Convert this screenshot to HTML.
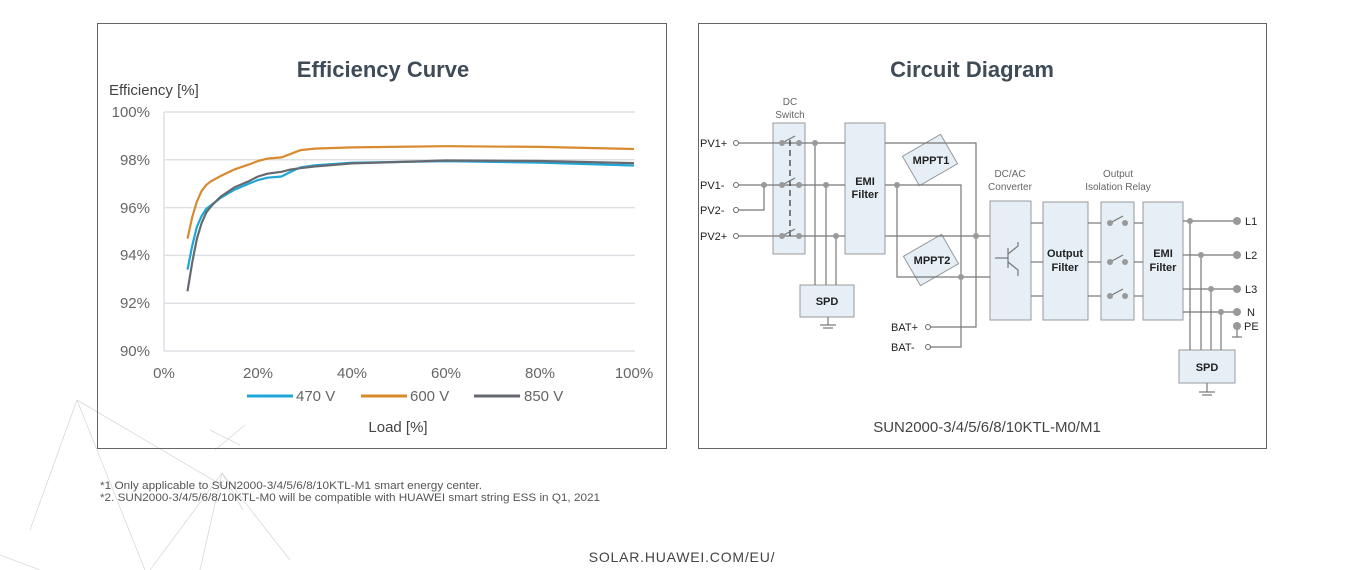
<!DOCTYPE html>
<html><head><meta charset="utf-8"><style>
html,body{margin:0;padding:0;background:#fff;width:1365px;height:570px;overflow:hidden}
svg{display:block;font-family:"Liberation Sans",sans-serif}
</style></head><body>
<svg width="1365" height="570" viewBox="0 0 1365 570" xmlns="http://www.w3.org/2000/svg">
<!-- background decorative lines -->
<g stroke="#d6d9de" stroke-width="0.8" fill="none">
<line x1="77" y1="400" x2="30" y2="530"/><line x1="77" y1="400" x2="145" y2="570"/>
<line x1="77" y1="400" x2="230" y2="490"/><line x1="0" y1="555" x2="40" y2="570"/>
<line x1="222" y1="473" x2="150" y2="570"/><line x1="222" y1="473" x2="200" y2="570"/>
<line x1="222" y1="473" x2="290" y2="560"/><line x1="222" y1="473" x2="243" y2="510"/>
<line x1="215" y1="450" x2="245" y2="425"/><line x1="210" y1="430" x2="240" y2="445"/>
</g>
<!-- left panel -->
<rect x="97.5" y="23.5" width="569" height="425" fill="none" stroke="#666" stroke-width="1"/>
<text x="383" y="77" text-anchor="middle" font-size="22" font-weight="bold" fill="#3f4b56">Efficiency Curve</text>
<text x="109" y="95" font-size="15" fill="#444">Efficiency [%]</text>
<g stroke="#dde1e6" stroke-width="1.5">
<line x1="164" y1="112" x2="635" y2="112"/><line x1="164" y1="159.8" x2="635" y2="159.8"/>
<line x1="164" y1="207.6" x2="635" y2="207.6"/><line x1="164" y1="255.4" x2="635" y2="255.4"/>
<line x1="164" y1="303.2" x2="635" y2="303.2"/><line x1="164" y1="351" x2="635" y2="351"/>
<line x1="164" y1="112" x2="164" y2="351"/>
</g>
<g font-size="15" fill="#666" text-anchor="end">
<text x="150" y="117">100%</text><text x="150" y="165">98%</text><text x="150" y="213">96%</text>
<text x="150" y="260">94%</text><text x="150" y="308">92%</text><text x="150" y="356">90%</text>
</g>
<g font-size="15" fill="#666" text-anchor="middle">
<text x="164" y="378">0%</text><text x="258" y="378">20%</text><text x="352" y="378">40%</text>
<text x="446" y="378">60%</text><text x="540" y="378">80%</text><text x="634" y="378">100%</text>
</g>
<path id="p600" fill="none" stroke="#d88a2e" stroke-width="2.2"/>
<path id="p470" fill="none" stroke="#1ea7d6" stroke-width="2.2"/>
<path id="p850" fill="none" stroke="#666a70" stroke-width="2.2"/>
<g stroke-width="3">
<line x1="247" y1="396" x2="293" y2="396" stroke="#1ea7d6"/>
<line x1="361" y1="396" x2="407" y2="396" stroke="#d88a2e"/>
<line x1="474" y1="396" x2="520" y2="396" stroke="#666a70"/>
</g>
<g font-size="15" fill="#666"><text x="296" y="401">470 V</text><text x="410" y="401">600 V</text><text x="524" y="401">850 V</text></g>
<text x="398" y="432" text-anchor="middle" font-size="15" fill="#444">Load [%]</text>

<!-- right panel -->
<rect x="698.5" y="23.5" width="568" height="425" fill="none" stroke="#666" stroke-width="1"/>
<text x="972" y="77" text-anchor="middle" font-size="22" font-weight="bold" fill="#3f4b56">Circuit Diagram</text>
<g font-size="10" fill="#666" text-anchor="middle">
<text x="790" y="105">DC</text><text x="790" y="118">Switch</text>
<text x="1010" y="177">DC/AC</text><text x="1010" y="190">Converter</text>
<text x="1118" y="177">Output</text><text x="1118" y="190">Isolation Relay</text>
</g>
<g fill="#e6eef6" stroke="#999" stroke-width="1">
<rect x="773" y="123" width="32" height="131"/>
<rect x="845" y="123" width="40" height="131"/>
<rect x="800" y="285" width="54" height="32"/>
<rect x="990" y="201" width="41" height="119"/>
<rect x="1043" y="202" width="45" height="118"/>
<rect x="1101" y="202" width="33" height="118"/>
<rect x="1143" y="202" width="40" height="118"/>
<rect x="1179" y="350" width="56" height="33"/>
<rect x="-22" y="-17" width="44" height="34" transform="translate(930,160) rotate(-30)"/>
<rect x="-22" y="-17" width="44" height="34" transform="translate(931,260) rotate(-30)"/>
</g>
<g stroke="#777" stroke-width="1.2" fill="none">
<!-- inputs -->
<line x1="739" y1="143" x2="845" y2="143"/>
<line x1="739" y1="185" x2="845" y2="185"/>
<line x1="739" y1="236" x2="845" y2="236"/>
<polyline points="739,210 764,210 764,185"/>
<line x1="790" y1="140" x2="790" y2="240" stroke-dasharray="6,4" stroke="#333"/>
<polyline points="815,143 815,285"/><polyline points="826,185 826,285"/><polyline points="836,236 836,285"/>
<line x1="828" y1="317" x2="828" y2="325"/><line x1="820" y1="325" x2="836" y2="325"/><line x1="823" y1="328" x2="833" y2="328"/>
<!-- after EMI -->
<polyline points="885,143 976,143 976,327 930,327"/>
<polyline points="885,185 961,185 961,347 930,347"/>
<polyline points="897,185 897,277 990,277"/>
<line x1="885" y1="236" x2="990" y2="236"/>
<!-- to output -->
<line x1="1031" y1="223" x2="1043" y2="223"/><line x1="1031" y1="262" x2="1043" y2="262"/><line x1="1031" y1="296" x2="1043" y2="296"/>
<line x1="1088" y1="223" x2="1101" y2="223"/><line x1="1088" y1="262" x2="1101" y2="262"/><line x1="1088" y1="296" x2="1101" y2="296"/>
<line x1="1134" y1="223" x2="1143" y2="223"/><line x1="1134" y1="262" x2="1143" y2="262"/><line x1="1134" y1="296" x2="1143" y2="296"/>
<line x1="1183" y1="221" x2="1237" y2="221"/><line x1="1183" y1="255" x2="1237" y2="255"/>
<line x1="1183" y1="289" x2="1237" y2="289"/><line x1="1183" y1="312" x2="1237" y2="312"/>
<line x1="1190" y1="221" x2="1190" y2="350"/><line x1="1201" y1="255" x2="1201" y2="350"/>
<line x1="1211" y1="289" x2="1211" y2="350"/><line x1="1221" y1="312" x2="1221" y2="350"/>
<line x1="1207" y1="383" x2="1207" y2="392"/><line x1="1199" y1="392" x2="1215" y2="392"/><line x1="1202" y1="395" x2="1212" y2="395"/>
<line x1="1237" y1="326" x2="1237" y2="337"/><line x1="1232" y1="337" x2="1242" y2="337"/>
<!-- switches -->
<line x1="782" y1="143" x2="795" y2="136"/><line x1="782" y1="185" x2="795" y2="178"/><line x1="782" y1="236" x2="795" y2="229"/>
<line x1="1110" y1="223" x2="1123" y2="216"/><line x1="1110" y1="262" x2="1123" y2="255"/><line x1="1110" y1="296" x2="1123" y2="289"/>
<!-- transistor -->
<line x1="995" y1="258" x2="1008" y2="258"/><line x1="1008" y1="248" x2="1008" y2="268"/>
<polyline points="1008,254 1018,246 1018,242"/><polyline points="1008,262 1018,270 1018,276"/>
</g>
<g fill="#fff" stroke="#666" stroke-width="1">
<circle cx="736" cy="143" r="2.5"/><circle cx="736" cy="185" r="2.5"/><circle cx="736" cy="210" r="2.5"/><circle cx="736" cy="236" r="2.5"/>
<circle cx="928" cy="327" r="2.5"/><circle cx="928" cy="347" r="2.5"/>
</g>
<g fill="#999">
<circle cx="782" cy="143" r="3"/><circle cx="799" cy="143" r="3"/><circle cx="782" cy="185" r="3"/><circle cx="799" cy="185" r="3"/>
<circle cx="782" cy="236" r="3"/><circle cx="799" cy="236" r="3"/><circle cx="764" cy="185" r="3"/>
<circle cx="815" cy="143" r="3"/><circle cx="826" cy="185" r="3"/><circle cx="836" cy="236" r="3"/>
<circle cx="897" cy="185" r="3"/><circle cx="976" cy="236" r="3"/><circle cx="961" cy="277" r="3"/>
<circle cx="1110" cy="223" r="3"/><circle cx="1125" cy="223" r="3"/><circle cx="1110" cy="262" r="3"/><circle cx="1125" cy="262" r="3"/>
<circle cx="1110" cy="296" r="3"/><circle cx="1125" cy="296" r="3"/>
<circle cx="1190" cy="221" r="3"/><circle cx="1201" cy="255" r="3"/><circle cx="1211" cy="289" r="3"/><circle cx="1221" cy="312" r="3"/>
<circle cx="1237" cy="221" r="4"/><circle cx="1237" cy="255" r="4"/><circle cx="1237" cy="289" r="4"/><circle cx="1237" cy="312" r="4"/><circle cx="1237" cy="326" r="4"/>
</g>
<g font-size="11" fill="#222">
<text x="700" y="147">PV1+</text><text x="700" y="189">PV1-</text><text x="700" y="214">PV2-</text><text x="700" y="240">PV2+</text>
<text x="891" y="331">BAT+</text><text x="891" y="351">BAT-</text>
<text x="1245" y="225">L1</text><text x="1245" y="259">L2</text><text x="1245" y="293">L3</text><text x="1247" y="316">N</text><text x="1244" y="330">PE</text>
</g>
<g font-size="11" font-weight="bold" fill="#222" text-anchor="middle">
<text x="865" y="185">EMI</text><text x="865" y="198">Filter</text>
<text x="827" y="305">SPD</text>
<text x="931" y="164" transform="rotate(0)">MPPT1</text><text x="932" y="264">MPPT2</text>
<text x="1065" y="257">Output</text><text x="1065" y="271">Filter</text>
<text x="1163" y="257">EMI</text><text x="1163" y="271">Filter</text>
<text x="1207" y="371">SPD</text>
</g>
<text x="987" y="432" text-anchor="middle" font-size="15" fill="#444">SUN2000-3/4/5/6/8/10KTL-M0/M1</text>
<!-- footnotes -->
<g font-size="11" fill="#555">
<text x="100" y="489" textLength="382" lengthAdjust="spacingAndGlyphs">*1 Only applicable to SUN2000-3/4/5/6/8/10KTL-M1 smart energy center.</text>
<text x="100" y="501" textLength="500" lengthAdjust="spacingAndGlyphs">*2. SUN2000-3/4/5/6/8/10KTL-M0 will be compatible with HUAWEI smart string ESS in Q1, 2021</text>
</g>
<text x="682" y="562" text-anchor="middle" font-size="14" fill="#444" letter-spacing="0.8">SOLAR.HUAWEI.COM/EU/</text>
</svg>
<script>
function X(l){return 164+4.7*l}function Y(e){return 351-(e-90)*23.9}
var d={
p600:[[5,94.7],[6,95.6],[7,96.25],[8,96.7],[9,96.95],[10,97.1],[12,97.32],[15,97.6],[18,97.8],[20,97.95],[22,98.05],[25,98.1],[27,98.25],[29,98.4],[32,98.47],[40,98.52],[60,98.57],[80,98.54],[100,98.45]],
p470:[[5,93.4],[6,94.4],[7,95.2],[8,95.65],[9,95.95],[10,96.1],[12,96.4],[15,96.75],[18,97.0],[20,97.15],[22,97.25],[25,97.3],[27,97.5],[29,97.68],[32,97.77],[40,97.88],[60,97.94],[80,97.88],[100,97.76]],
p850:[[5,92.5],[6,93.7],[7,94.7],[8,95.35],[9,95.8],[10,96.05],[12,96.45],[15,96.85],[18,97.1],[20,97.3],[22,97.42],[25,97.5],[27,97.6],[29,97.65],[32,97.72],[40,97.85],[60,97.97],[80,97.95],[100,97.86]]};
for(var k in d){document.getElementById(k).setAttribute('d','M'+d[k].map(function(p){return X(p[0]).toFixed(1)+','+Y(p[1]).toFixed(1)}).join(' L'));}
</script>
</body></html>
